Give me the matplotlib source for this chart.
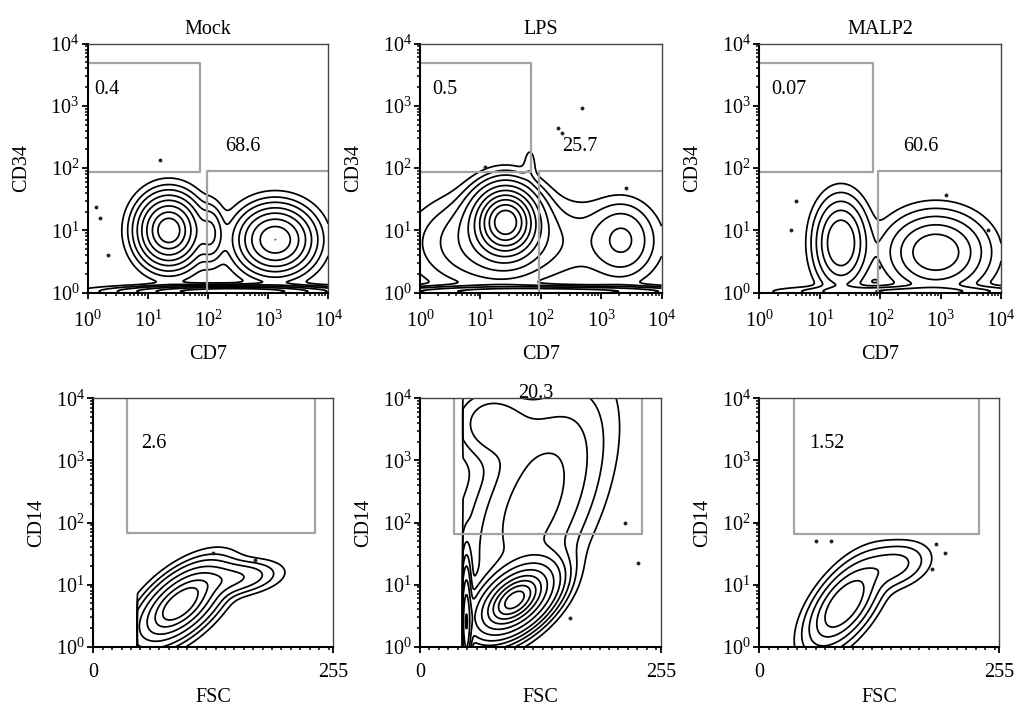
import numpy as np
import matplotlib
matplotlib.use("Agg")
import matplotlib.pyplot as plt
from matplotlib.ticker import LogLocator, MultipleLocator, FixedLocator, NullFormatter

plt.rcParams['font.family'] = ['Liberation Serif', 'DejaVu Serif']
plt.rcParams['mathtext.fontset'] = 'stix'
plt.rcParams['font.size'] = 14.5

titles = ['Mock', 'LPS', 'MALP2']

# cell populations: (centre x, centre y, spread x, spread y, correlation, weight)
# top row: x, y in decades of CD7 / CD34
mock_cd34_pops = [(1.35, 1.00, 0.27, 0.29, 0.0, 1.0),
                  (3.12, 0.85, 0.33, 0.28, 0.0, 0.8),
                  (2.05, 0.95, 0.12, 0.25, 0.0, 0.15),
                  (2.40, 0.02, 0.95, 0.05, 0.0, 0.6)]
lps_cd34_pops = [(1.42, 1.15, 0.30, 0.32, 0.0, 1.0),
                 (1.10, 0.80, 0.70, 0.45, 0.0, 0.12),
                 (2.30, 0.80, 1.10, 0.45, 0.0, 0.05),
                 (3.35, 0.85, 0.30, 0.35, 0.0, 0.12),
                 (1.82, 2.10, 0.07, 0.18, 0.0, 0.03),
                 (2.00, 0.02, 1.50, 0.05, 0.0, 0.3)]
malp2_cd34_pops = [(1.35, 0.80, 0.22, 0.36, 0.0, 1.0),
                   (2.92, 0.65, 0.42, 0.32, 0.0, 0.9),
                   (2.50, 0.02, 1.00, 0.05, 0.0, 0.4)]

# bottom row: x in FSC channels, y in decades of CD14
mock_cd14_pops = [(92, 0.68, 24, 0.33, 0.6, 1.0),
                  (150, 1.10, 25, 0.15, 0.3, 0.2)]
lps_cd14_pops = [(100, 0.75, 22, 0.30, 0.5, 1.0),
                 (120, 2.30, 45, 1.10, 0.55, 0.08),
                 (75, 3.60, 25, 0.35, 0.0, 0.05),
                 (49, 0.40, 3, 0.50, 0.0, 0.4)]
malp2_cd14_pops = [(90, 0.68, 20, 0.36, 0.6, 1.0),
                   (142, 1.30, 20, 0.20, 0.3, 0.25)]
fsc_min = [47, 45, 0]

# stray events outside the contours
mock_cd34_dots = ([16, 1.4, 1.6, 2.2, 4.7], [135, 24, 16, 4, 1.3])
lps_cd34_dots = ([475, 190, 225, 12, 2600], [920, 440, 360, 105, 48])
malp2_cd34_dots = ([4, 3.3, 6000, 1230, 97], [30, 10, 10, 37, 2.6])
mock_cd14_dots = ([127, 172], [32, 25])
lps_cd14_dots = ([217, 231, 159], [100, 22, 2.9])
malp2_cd14_dots = ([60, 76, 188, 197, 183], [50, 50, 45, 32, 18])

# gates
cd34_gate1_x = [74, 70, 76]
cd34_gate1_y = [(87, 4900), (87, 4900), (87, 4900)]
cd34_gate2_x = [95, 95, 92]
cd34_gate2_y = [91, 91, 91]
cd14_gate_x = [(35.5, 235.5), (36.3, 234.6), (37, 233.7)]
cd14_gate_y = [67, 65, 65]

cd34_left_pct = ['0.4', '0.5', '0.07']
cd34_right_pct = ['68.6', '25.7', '60.6']
cd14_pct = ['2.6', '20.3', '1.52']

top_levels = [[0.015, 0.04, 0.08, 0.15, 0.25, 0.4, 0.6, 0.8],
              [0.02, 0.04, 0.07, 0.12, 0.2, 0.3, 0.42, 0.55, 0.7, 0.85],
              [0.03, 0.08, 0.18, 0.35, 0.6]]
bottom_levels = [[0.02, 0.05, 0.1, 0.2, 0.35, 0.55, 0.75],
                 [0.01, 0.02, 0.035, 0.06, 0.1, 0.18, 0.3, 0.45, 0.6, 0.75, 0.9],
                 [0.03, 0.08, 0.18, 0.35, 0.6]]


def density(gx, gy, pops):
    z = np.zeros_like(gx)
    for cx, cy, sx, sy, rho, w in pops:
        dx = (gx - cx) / sx
        dy = (gy - cy) / sy
        q = (dx * dx - 2 * rho * dx * dy + dy * dy) / (1 - rho * rho)
        z += w * np.exp(-0.5 * q)
    return z


def style_axes(ax, xpad):
    for side in ['left', 'bottom']:
        ax.spines[side].set_linewidth(1.5)
        ax.spines[side].set_color('black')
    for side in ['top', 'right']:
        ax.spines[side].set_linewidth(1.0)
        ax.spines[side].set_color('#444444')
    ax.tick_params(which='major', direction='out', length=4, width=1.3, labelsize=14.5)
    ax.tick_params(which='minor', direction='out', length=2.5, width=1.1)
    ax.tick_params(axis='x', which='major', pad=xpad)
    ax.tick_params(axis='y', which='major', pad=2)
    ax.tick_params(top=False, right=False)


fig = plt.figure(figsize=(10.16, 7.11), dpi=100)

top_pos = [[0.0863, 0.5883, 0.2367, 0.3505],
           [0.4134, 0.5883, 0.2377, 0.3505],
           [0.7474, 0.5883, 0.2379, 0.3505]]
bottom_pos = [[0.0918, 0.0904, 0.2362, 0.3494],
              [0.4134, 0.0904, 0.2372, 0.3494],
              [0.7474, 0.0904, 0.2362, 0.3494]]

cd34_pops = [mock_cd34_pops, lps_cd34_pops, malp2_cd34_pops]
cd34_dots = [mock_cd34_dots, lps_cd34_dots, malp2_cd34_dots]
cd14_pops = [mock_cd14_pops, lps_cd14_pops, malp2_cd14_pops]
cd14_dots = [mock_cd14_dots, lps_cd14_dots, malp2_cd14_dots]

gate_col = '#a3a3a3'

# top row: CD7 vs CD34
u = np.linspace(0, 4, 320)
U, V = np.meshgrid(u, u)
for i in range(3):
    ax = fig.add_axes(top_pos[i])
    Z = density(U, V, cd34_pops[i])
    ax.contour(10 ** U, 10 ** V, Z, levels=np.array(top_levels[i]) * Z.max(),
               colors='black', linewidths=1.25)
    ax.plot(cd34_dots[i][0], cd34_dots[i][1], 'o', color='#222222', ms=2.8, mew=0)
    ax.set_xscale('log')
    ax.set_yscale('log')
    ax.set_xlim(1, 1e4)
    ax.set_ylim(1, 1e4)
    g1x = cd34_gate1_x[i]
    g1lo, g1hi = cd34_gate1_y[i]
    ax.plot([1, g1x, g1x, 1], [g1hi, g1hi, g1lo, g1lo], color=gate_col, lw=1.6)
    g2x = cd34_gate2_x[i]
    ax.plot([g2x, g2x, 1e4], [1, cd34_gate2_y[i], cd34_gate2_y[i]], color=gate_col, lw=1.6)
    ax.text(1.3 if i == 0 else 1.6, 1850, cd34_left_pct[i], ha='left', va='center')
    ax.text([195, 230, 235][i], 220, cd34_right_pct[i], ha='left', va='center')
    ax.xaxis.set_major_locator(LogLocator(base=10, numticks=10))
    ax.yaxis.set_major_locator(LogLocator(base=10, numticks=10))
    ax.xaxis.set_minor_locator(LogLocator(base=10, subs=np.arange(2, 10), numticks=10))
    ax.yaxis.set_minor_locator(LogLocator(base=10, subs=np.arange(2, 10), numticks=10))
    ax.xaxis.set_minor_formatter(NullFormatter())
    ax.yaxis.set_minor_formatter(NullFormatter())
    style_axes(ax, 9)
    ax.set_title(titles[i], fontsize=14.5, pad=7)
    ax.set_xlabel('CD7', fontsize=14.5)
    ax.xaxis.set_label_coords(0.5, -0.21)
    ax.set_ylabel('CD34', fontsize=14.5, labelpad=14)

# bottom row: FSC vs CD14
fx = np.linspace(0, 255, 320)
fv = np.linspace(0, 4, 320)
FX, FV = np.meshgrid(fx, fv)
for i in range(3):
    ax = fig.add_axes(bottom_pos[i])
    Z = density(FX, FV, cd14_pops[i])
    Z[FX < fsc_min[i]] = 0
    ax.contour(FX, 10 ** FV, Z, levels=np.array(bottom_levels[i]) * Z.max(),
               colors='black', linewidths=1.25)
    ax.plot(cd14_dots[i][0], cd14_dots[i][1], 'o', color='#222222', ms=2.8, mew=0)
    ax.set_yscale('log')
    ax.set_xlim(0, 255)
    ax.set_ylim(1, 1e4)
    gx0, gx1 = cd14_gate_x[i]
    ax.plot([gx0, gx0, gx1, gx1], [1e4, cd14_gate_y[i], cd14_gate_y[i], 1e4], color=gate_col, lw=1.6)
    if i == 1:
        ax.text(122, 1.2e4, cd14_pct[i], ha='center', va='center', clip_on=False)
    else:
        ax.text([51, 0, 52.5][i], 1900, cd14_pct[i], ha='left', va='center')
    ax.xaxis.set_major_locator(FixedLocator([0, 255]))
    ax.xaxis.set_minor_locator(MultipleLocator(10))
    ax.yaxis.set_major_locator(LogLocator(base=10, numticks=10))
    ax.yaxis.set_minor_locator(LogLocator(base=10, subs=np.arange(2, 10), numticks=10))
    ax.yaxis.set_minor_formatter(NullFormatter())
    style_axes(ax, 8)
    ax.set_xlabel('FSC', fontsize=14.5)
    ax.xaxis.set_label_coords(0.5, -0.165)
    ax.set_ylabel('CD14', fontsize=14.5, labelpad=7)

fig.savefig('out.png', dpi=100)
